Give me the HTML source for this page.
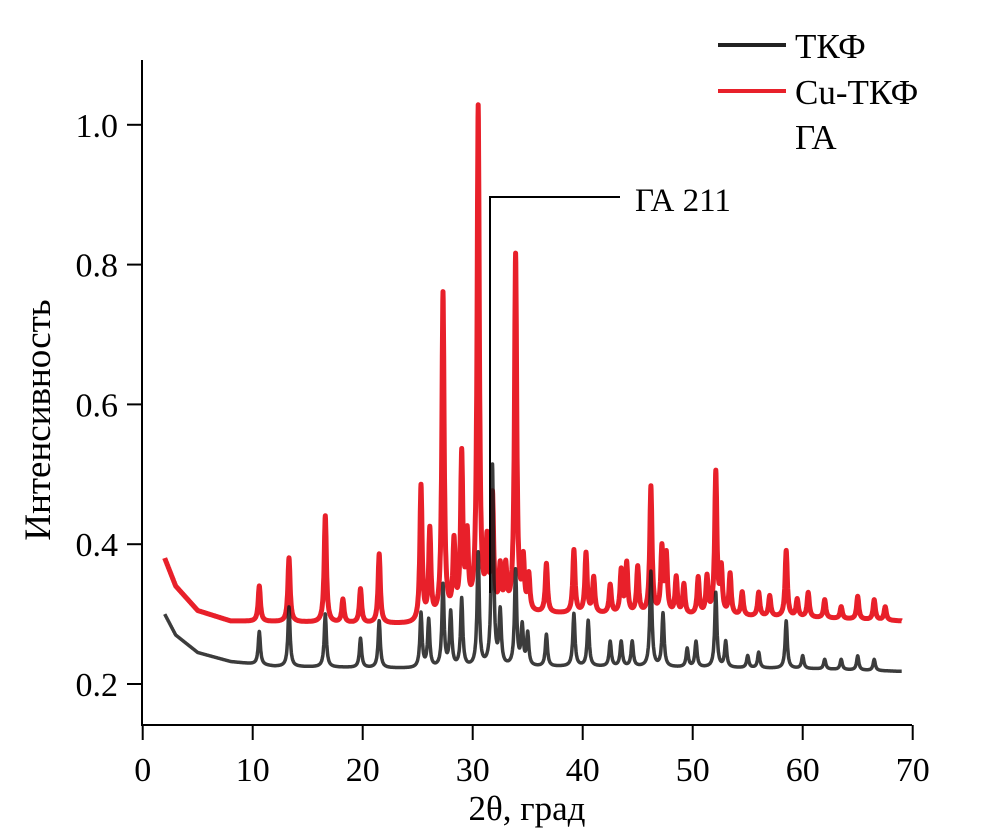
<!DOCTYPE html>
<html><head><meta charset="utf-8"><style>
html,body{margin:0;padding:0;background:#fff}
svg{display:block}
text{font-family:"Liberation Serif",serif;fill:#000}
</style></head><body>
<svg id="chart" width="985" height="840" viewBox="0 0 985 840" xmlns="http://www.w3.org/2000/svg">
<g id="axes"></g>
<g id="series"></g>
<g>
<polyline points="490,593 490,197 620,197" fill="none" stroke="#000" stroke-width="2"/>
<text x="635" y="211" font-size="33">ГА 211</text>
</g>
<g>
<line x1="718" y1="45" x2="786" y2="45" stroke="#222" stroke-width="4"/>
<text x="795" y="58" font-size="35">ТКФ</text>
<line x1="718" y1="91" x2="786" y2="91" stroke="#e8202a" stroke-width="4"/>
<text x="795" y="104" font-size="35">Cu-ТКФ</text>
<text x="795" y="149" font-size="35">ГА</text>
</g>
<text transform="translate(50,420) rotate(-90)" text-anchor="middle" font-size="37">Интенсивность</text>
<text x="527" y="820" text-anchor="middle" font-size="35">2θ, град</text>
</svg>
<script>
const xTicks=[0,10,20,30,40,50,60,70];
const yTicks=[0.2,0.4,0.6,0.8,1.0];
const yTickLabels=["0.2","0.4","0.6","0.8","1.0"];
const redPeaks2t=[10.6,13.3,16.6,18.2,19.8,21.5,25.3,26.1,27.3,28.3,29.0,29.5,30.5,31.3,31.8,32.5,33.0,33.9,34.6,35.1,36.7,39.2,40.3,41.0,42.5,43.5,44.0,45.0,46.2,47.2,47.6,48.5,49.2,50.5,51.3,52.1,52.6,53.4,54.5,56.0,57.0,58.5,59.5,60.5,62.0,63.5,65.0,66.5,67.5];
const redPeakVals=[0.34,0.38,0.44,0.32,0.335,0.385,0.48,0.415,0.755,0.395,0.52,0.40,1.02,0.39,0.46,0.36,0.36,0.81,0.37,0.35,0.37,0.39,0.385,0.35,0.34,0.36,0.37,0.365,0.48,0.39,0.38,0.35,0.34,0.35,0.35,0.50,0.36,0.355,0.33,0.33,0.325,0.39,0.32,0.33,0.32,0.31,0.325,0.32,0.31];
const blackPeaks2t=[10.6,13.3,16.6,19.8,21.5,25.3,26.0,27.3,28.0,29.0,30.5,31.8,32.5,33.9,34.5,35.0,36.7,39.2,40.5,42.5,43.5,44.5,46.2,47.3,49.5,50.3,52.1,53.0,55.0,56.0,58.5,60.0,62.0,63.5,65.0,66.5];
const blackPeakVals=[0.275,0.31,0.30,0.265,0.29,0.30,0.29,0.34,0.30,0.32,0.385,0.51,0.30,0.36,0.28,0.27,0.27,0.30,0.29,0.26,0.26,0.26,0.36,0.30,0.25,0.26,0.33,0.26,0.24,0.245,0.29,0.24,0.235,0.235,0.24,0.235];
const redBaseX=[2,3,5,8,25,30,40,60,69];
const redBaseY=[0.38,0.34,0.305,0.29,0.285,0.30,0.30,0.295,0.29];
const blackBaseX=[2,3,5,8,12,25,40,60,69];
const blackBaseY=[0.30,0.27,0.245,0.232,0.225,0.222,0.225,0.222,0.218];

const NS="http://www.w3.org/2000/svg";
const X0=142.7,PXX=11.0,Y0=684,PXY=699;
const sx=v=>X0+v*PXX, sy=v=>Y0-(v-0.2)*PXY;
const axes=document.getElementById('axes'), series=document.getElementById('series');
function mk(tag,attrs,parent){const e=document.createElementNS(NS,tag);for(const k in attrs)e.setAttribute(k,attrs[k]);parent.appendChild(e);return e;}
let e=mk('polyline',{points:`142,60 142,725 912,725`,fill:'none',stroke:'#000','stroke-width':2},axes);


xTicks.forEach(t=>{
 const l=mk('line',{x1:sx(t),x2:sx(t),y1:725,y2:740,stroke:'#000','stroke-width':2},axes);
 
 
 const tx=mk('text',{x:sx(t),y:781,'text-anchor':'middle','font-size':34},axes);tx.textContent=t;
 
 
});
yTicks.forEach((t,i)=>{
 const l=mk('line',{x1:127,x2:142,y1:sy(t),y2:sy(t),stroke:'#000','stroke-width':2},axes);
 
 
 const tx=mk('text',{x:118,y:sy(t)+12,'text-anchor':'end','font-size':34},axes);tx.textContent=yTickLabels[i];
 
 
});
function interp(xs,ys,x){for(let i=0;i<xs.length-1;i++){if(x<=xs[i+1]){const f=(x-xs[i])/(xs[i+1]-xs[i]);return ys[i]+f*(ys[i+1]-ys[i]);}}return ys[ys.length-1];}
function curve(bx,by,px,pv){
 const xs=[];
 for(let x=2;x<=69.001;x+=0.02)xs.push(x);
 px.forEach(p=>xs.push(p));
 xs.sort((a,b)=>a-b);
 const pts=xs.map(x=>{
  let y=interp(bx,by,x);
  px.forEach((p,i)=>{const h=pv[i]-interp(bx,by,p);const w=0.12;y+=h/(1+((x-p)/w)**2);});
  return sx(x).toFixed(1)+','+sy(y).toFixed(1);
 });
 return pts.join(' ');
}
let r=mk('polyline',{points:curve(redBaseX,redBaseY,redPeaks2t,redPeakVals),fill:'none',stroke:'#e8202a','stroke-width':5,'stroke-linejoin':'round'},series);


let b=mk('polyline',{points:curve(blackBaseX,blackBaseY,blackPeaks2t,blackPeakVals),fill:'none',stroke:'#1a1a1a','stroke-width':3.5,'stroke-linejoin':'round','stroke-opacity':0.85},series);


</script>
</body></html>
